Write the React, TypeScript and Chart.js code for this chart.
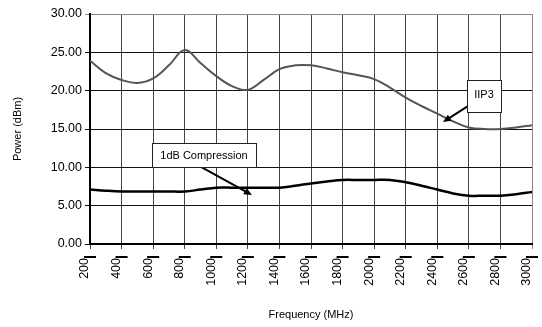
import React, { useEffect, useRef } from "react";
import { Chart, registerables } from "chart.js";

Chart.register(...registerables);

const freqs = [200, 300, 400, 500, 600, 700, 800, 900, 1000, 1100, 1200, 1300, 1400, 1500, 1600, 1700, 1800, 1900, 2000, 2100, 2200, 2300, 2400, 2500, 2600, 2700, 2800, 2900, 3000];
const iip3 = [23.9, 22.3, 21.4, 21.0, 21.6, 23.3, 25.3, 23.6, 21.9, 20.6, 20.1, 21.4, 22.8, 23.3, 23.3, 22.9, 22.4, 22.0, 21.5, 20.4, 19.1, 18.0, 17.0, 16.0, 15.2, 15.0, 15.0, 15.2, 15.5];
const compression = [7.1, 6.95, 6.85, 6.85, 6.85, 6.85, 6.85, 7.1, 7.35, 7.35, 7.35, 7.35, 7.35, 7.6, 7.9, 8.15, 8.35, 8.35, 8.35, 8.35, 8.05, 7.6, 7.1, 6.6, 6.3, 6.3, 6.3, 6.5, 6.8];
const yTicks = [0, 5, 10, 15, 20, 25, 30];
const xTitle = "Frequency (MHz)";
const yTitle = "Power (dBm)";

// callouts: label box centre and arrow (start -> tip), in data units
const callouts = [
  { text: "1dB Compression", box: [922, 11.6], from: [802, 11.2], to: [1226, 6.4], w: 104, h: 24 },
  { text: "IIP3", box: [2696, 19.3], from: [2626, 18.4], to: [2436, 15.9], w: 34, h: 32 },
];

const FONT = "'Liberation Sans', Arial, sans-serif";

const calloutPlugin = {
  id: "callouts",
  afterDatasetsDraw(chart: any) {
    const { ctx, scales } = chart;
    const xs = scales.x, ys = scales.y;
    ctx.save();
    for (const c of callouts) {
      const x1 = xs.getPixelForValue(c.from[0]);
      const y1 = ys.getPixelForValue(c.from[1]);
      const x2 = xs.getPixelForValue(c.to[0]);
      const y2 = ys.getPixelForValue(c.to[1]);
      ctx.strokeStyle = "#000";
      ctx.lineWidth = 2;
      ctx.beginPath();
      ctx.moveTo(x1, y1);
      const ang = Math.atan2(y2 - y1, x2 - x1);
      const hl = 8, hw = 3.5;
      ctx.lineTo(x2 - Math.cos(ang) * hl * 0.8, y2 - Math.sin(ang) * hl * 0.8);
      ctx.stroke();
      ctx.fillStyle = "#000";
      ctx.beginPath();
      ctx.moveTo(x2, y2);
      ctx.lineTo(x2 - Math.cos(ang) * hl - Math.sin(ang) * hw, y2 - Math.sin(ang) * hl + Math.cos(ang) * hw);
      ctx.lineTo(x2 - Math.cos(ang) * hl + Math.sin(ang) * hw, y2 - Math.sin(ang) * hl - Math.cos(ang) * hw);
      ctx.closePath();
      ctx.fill();
      ctx.font = `11px ${FONT}`;
      const bx = xs.getPixelForValue(c.box[0]);
      const by = ys.getPixelForValue(c.box[1]);
      const w = c.w, h = c.h;
      const lx = Math.round(bx - w / 2) + 0.5, ty = Math.round(by - h / 2) + 0.5;
      ctx.fillStyle = "#fff";
      ctx.fillRect(lx, ty, w, h);
      ctx.strokeStyle = "#222";
      ctx.lineWidth = 1;
      ctx.strokeRect(lx, ty, w, h);
      ctx.fillStyle = "#000";
      ctx.textAlign = "center";
      ctx.textBaseline = "middle";
      ctx.fillText(c.text, bx, h > 28 ? ty + 14 : by + 1);
    }
    ctx.restore();
  },
  afterDraw(chart: any) {
    const { ctx, scales } = chart;
    const xs = scales.x;
    ctx.save();
    ctx.strokeStyle = "#000";
    ctx.lineWidth = 2;
    for (const t of xs.ticks) {
      const px = xs.getPixelForValue(t.value);
      ctx.beginPath();
      ctx.moveTo(px - 6, 257);
      ctx.lineTo(px + 6, 257);
      ctx.stroke();
    }
    ctx.restore();
  },
};

export default function App() {
  const ref = useRef<HTMLCanvasElement>(null);
  useEffect(() => {
    document.body.style.margin = "0";
    const chart = new Chart(ref.current!, {
      type: "line",
      data: {
        datasets: [
          {
            label: "IIP3",
            data: freqs.map((f, i) => ({ x: f, y: iip3[i] })),
            borderColor: "#555555",
            borderWidth: 2,
            pointRadius: 0,
            tension: 0.4,
            fill: false,
          },
          {
            label: "1dB Compression",
            data: freqs.map((f, i) => ({ x: f, y: compression[i] })),
            borderColor: "#000000",
            borderWidth: 2.5,
            pointRadius: 0,
            tension: 0.4,
            fill: false,
          },
        ],
      },
      options: {
        animation: false,
        responsive: false,
        maintainAspectRatio: false,
        layout: { padding: { left: 0, right: 10, top: 14, bottom: 0 } },
        plugins: { legend: { display: false }, tooltip: { enabled: false } },
        scales: {
          x: {
            type: "linear",
            min: 200,
            max: 3000,
            afterFit: (s: any) => { s.height = 83; s.paddingLeft = 0; s.paddingRight = 0; },
            ticks: {
              stepSize: 200,
              minRotation: 90,
              maxRotation: 90,
              padding: 9,
              labelOffset: -5,
              color: "#000",
              font: { family: FONT, size: 12.5 },
              callback: (v: any) => String(v),
            },
            grid: {
              color: (c: any) => (c.tick && c.tick.value === 3000 ? "#888" : "#444"),
              lineWidth: 1,
              tickLength: 5,
            },
            border: { color: "#000", width: 2 },
            title: {
              display: true,
              text: xTitle,
              color: "#000",
              font: { family: FONT, size: 11 },
              padding: { top: 0, bottom: 5.4 },
            },
          },
          y: {
            min: 0,
            max: 30,
            afterFit: (s: any) => { s.width = 90; },
            afterBuildTicks: (s: any) => { s.ticks = yTicks.map((v) => ({ value: v })); },
            ticks: {
              stepSize: 5,
              padding: 3,
              color: "#000",
              font: { family: FONT, size: 12.5 },
              callback: (v: any) => Number(v).toFixed(2),
            },
            grid: {
              color: (c: any) => (c.tick && c.tick.value === 30 ? "#888" : "#111"),
              lineWidth: 1,
              tickLength: 5,
            },
            border: { color: "#000", width: 2 },
            title: {
              display: true,
              text: yTitle,
              color: "#000",
              font: { family: FONT, size: 11 },
              padding: { top: 11.4, bottom: 0 },
            },
          },
        },
      },
      plugins: [calloutPlugin],
    });
    return () => chart.destroy();
  }, []);
  return (
    <div style={{ width: 542, height: 327, background: "#fff" }}>
      <canvas ref={ref} width={542} height={327} style={{ display: "block" }} />
    </div>
  );
}
